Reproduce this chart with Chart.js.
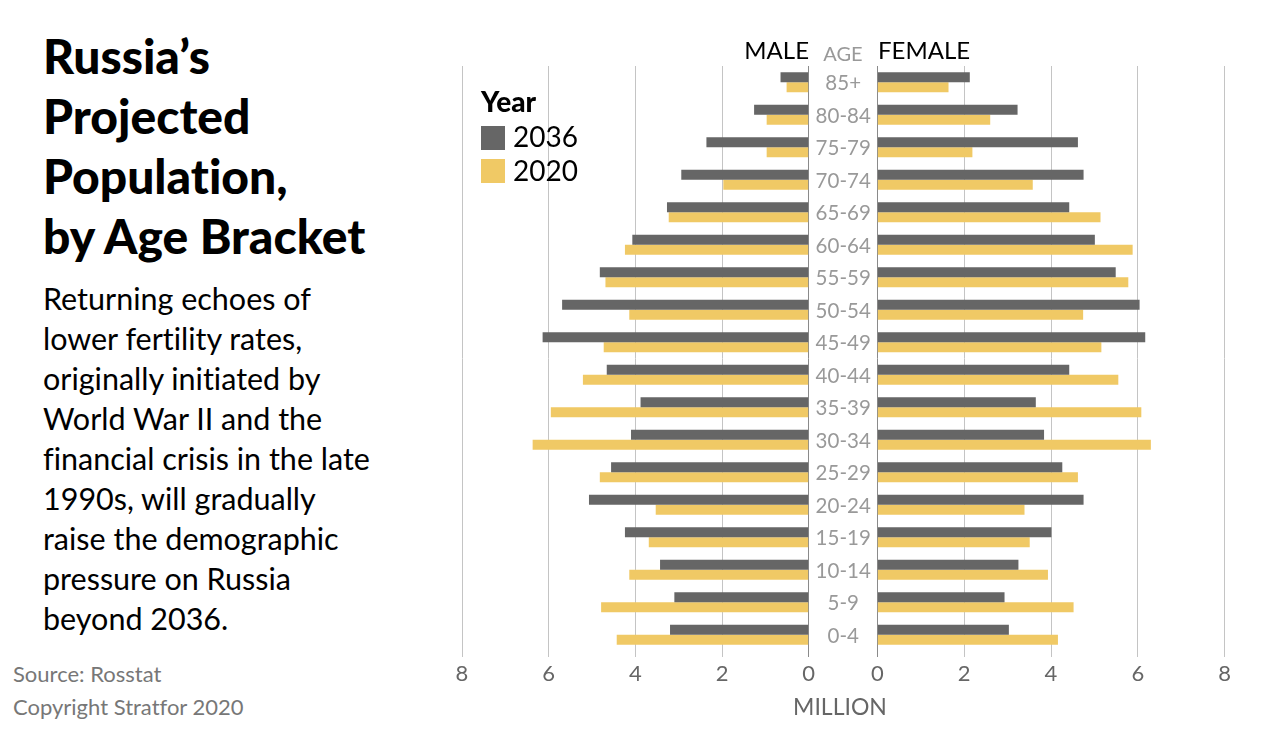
<!DOCTYPE html>
<html>
<head>
<meta charset="utf-8">
<script src="https://cdn.jsdelivr.net/npm/chart.js@4.4.0/dist/chart.umd.min.js"></script>
<style>
  body { margin: 0; width: 1280px; height: 738px; background: #fff; position: relative; overflow: hidden;
         font-family: Lato, sans-serif; font-variant-ligatures: none; }
  .abs { position: absolute; white-space: nowrap; }
  #title { left: 43px; top: 26px; font-weight: 900; font-size: 48px; line-height: 60px; color: #000; }
  #desc { left: 43px; top: 278px; font-size: 30.5px; line-height: 40px; color: #000; }
  #source { left: 13px; top: 657px; font-size: 22px; line-height: 33px; color: #777; }
  .side { top: 38px; font-size: 24px; line-height: 24px; color: #000; }
  #age { left: 818px; width: 50px; text-align: center; top: 43px; font-size: 20px; line-height: 20px; color: #999; }
  #legend { left: 481px; top: 0; }
  .sw { position: absolute; width: 24px; height: 24px; }
  .lt { position: absolute; font-size: 28px; line-height: 28px; color: #000; }
  #million { left: 790px; width: 100px; text-align: center; top: 695px; font-size: 23px; line-height: 23px; color: #666; }
  canvas { position: absolute; top: 0; }
</style>
</head>
<body>
<div class="abs" id="title">Russia’s<br>Projected<br>Population,<br>by Age Bracket</div>
<div class="abs" id="desc">Returning echoes of<br>lower fertility rates,<br>originally initiated by<br>World War II and the<br>financial crisis in the late<br>1990s, will gradually<br>raise the demographic<br>pressure on Russia<br>beyond 2036.</div>
<div class="abs" id="source">Source: Rosstat<br>Copyright Stratfor 2020</div>

<canvas id="maleChart" width="477" height="738" style="left:400px"></canvas>
<canvas id="femaleChart" width="423" height="738" style="left:857px"></canvas>

<div class="abs side" style="right:471px">MALE</div>
<div class="abs" id="age">AGE</div>
<div class="abs side" style="left:878px">FEMALE</div>
<div class="abs" id="million">MILLION</div>

<div class="abs" id="legend">
  <div class="lt" style="left:0; top:87px; font-weight:900;">Year</div>
  <div class="sw" style="left:0; top:126px; background:#666666;"></div>
  <div class="lt" style="left:32px; top:122px;">2036</div>
  <div class="sw" style="left:0; top:159px; background:#F0C965;"></div>
  <div class="lt" style="left:32px; top:156px;">2020</div>
</div>

<script>
const ages = ['85+', '80-84', '75-79', '70-74', '65-69', '60-64', '55-59', '50-54', '45-49',
    '40-44', '35-39', '30-34', '25-29', '20-24', '15-19', '10-14', '5-9', '0-4'];

// millions
const male2036 = [0.65, 1.26, 2.36, 2.94, 3.27, 4.07, 4.82, 5.69, 6.14, 4.66, 3.88, 4.10, 4.56, 5.07, 4.24, 3.43, 3.10, 3.20];
const male2020 = [0.51, 0.97, 0.97, 1.97, 3.23, 4.24, 4.69, 4.14, 4.73, 5.21, 5.95, 6.37, 4.82, 3.53, 3.69, 4.14, 4.79, 4.43];
const female2036 = [2.13, 3.23, 4.62, 4.75, 4.42, 5.01, 5.49, 6.04, 6.17, 4.42, 3.65, 3.84, 4.26, 4.75, 4.01, 3.25, 2.93, 3.03];
const female2020 = [1.64, 2.60, 2.19, 3.58, 5.14, 5.88, 5.78, 4.74, 5.16, 5.55, 6.08, 6.30, 4.62, 3.39, 3.51, 3.93, 4.52, 4.16];

const GREY = '#666666';
const YELLOW = '#F0C965';

// age labels go in the gap between the two charts
const ageLabels = {
    id: 'ageLabels',
    afterDatasetsDraw(chart) {
        const { ctx, chartArea, scales } = chart;
        ctx.save();
        ctx.font = '20.5px Lato';
        ctx.fillStyle = '#999';
        ctx.textAlign = 'center';
        ctx.textBaseline = 'alphabetic';
        ages.forEach((a, i) => {
            ctx.fillText(a, chartArea.right + 34.5, scales.y.getPixelForValue(i) + 8);
        });
        ctx.restore();
    }
};

function makeOptions(reverse, padding) {
    return {
        indexAxis: 'y',
        responsive: false,
        animation: false,
        layout: { padding: padding },
        datasets: { bar: { barPercentage: 1, categoryPercentage: 0.615 } },
        plugins: { legend: { display: false }, tooltip: { enabled: false } },
        scales: {
            x: {
                min: 0, max: 8, reverse: reverse,
                ticks: { stepSize: 2, color: '#666', padding: 4, font: { family: 'Lato', size: 22 } },
                grid: {
                    color: c => (c.tick && c.tick.value === 0) ? '#8a8a8a' : '#c4c4c4',
                    tickLength: 6
                },
                border: { display: false },
                afterFit: s => { s.height = 87; }
            },
            y: { display: false }
        }
    };
}

function drawChart(canvasId, values2036, values2020, options, extra) {
    const ctx = document.getElementById(canvasId).getContext('2d');
    return new Chart(ctx, {
        type: 'bar',
        data: {
            labels: ages,
            datasets: [
                { label: '2036', data: values2036, backgroundColor: GREY },
                { label: '2020', data: values2020, backgroundColor: YELLOW }
            ]
        },
        options: options,
        plugins: extra || []
    });
}

drawChart('maleChart', male2036, male2020,
    makeOptions(true, { left: 62, right: 68.3, top: 66, bottom: 0 }), [ageLabels]);
drawChart('femaleChart', female2036, female2020,
    makeOptions(false, { left: 20.3, right: 55.3, top: 66, bottom: 0 }));
</script>
</body>
</html>
